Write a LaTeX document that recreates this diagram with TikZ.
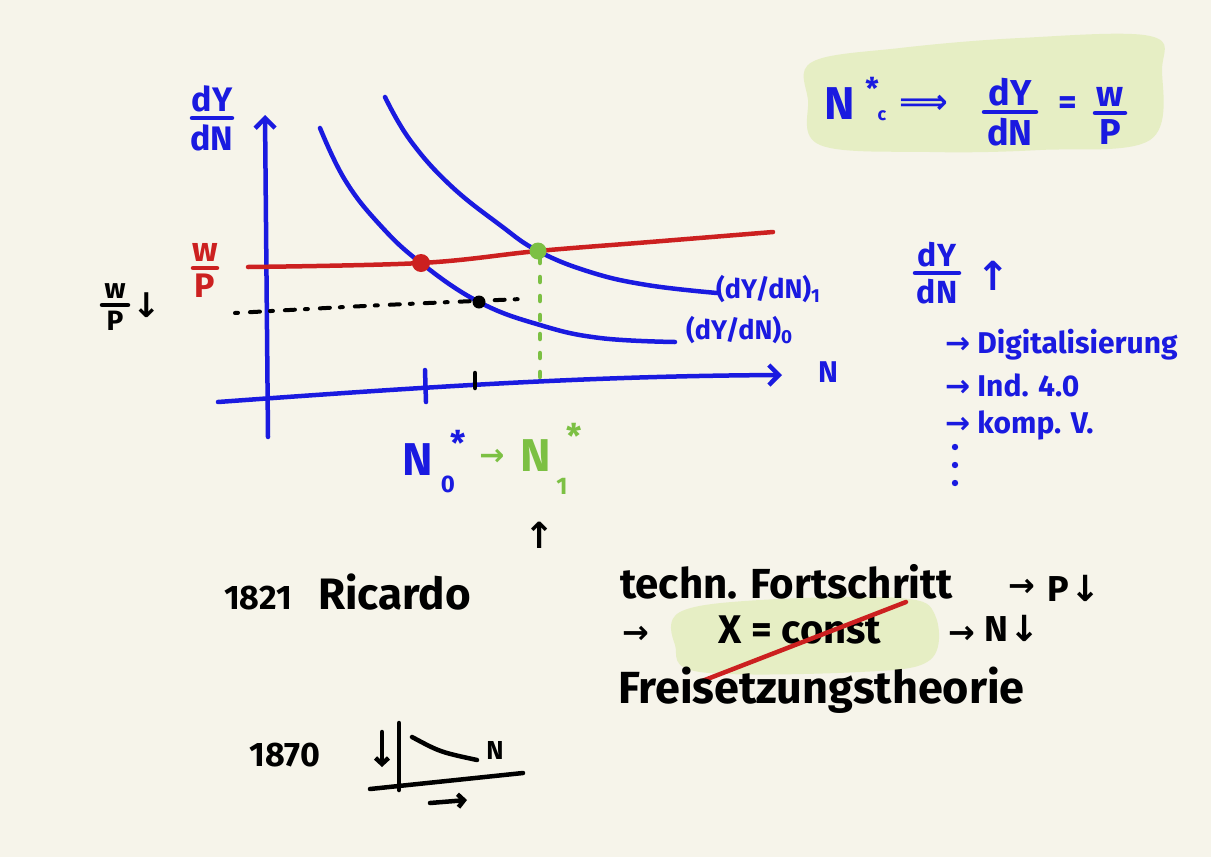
\documentclass[tikz,border=0pt]{standalone}
\usepackage{fontspec}
\setmainfont{Fira Sans}
\newfontfamily\arr{DejaVu Sans}
\usetikzlibrary{arrows.meta}
\definecolor{paper}{HTML}{F6F4EA}
\definecolor{ink}{HTML}{1A1AE0}
\definecolor{rd}{HTML}{CC2020}
\definecolor{gr}{HTML}{7CC043}
\definecolor{hl}{HTML}{E6EEC4}
\tikzset{
  pen/.style={line width=4.5pt, line cap=round, line join=round},
  hw/.style={font=\bfseries\fontsize{#1}{#1}\selectfont, inner sep=0pt},
  hw/.default=34,
  axarrow/.style={-{Straight Barb[length=10pt,width=20pt]}},
  smallarrow/.style={-{Straight Barb[length=6pt,width=13pt]}},
}
\newcommand\myfr[8]{% name x y top bottom color fontsize halfbar
  \node[hw=#7,text=#6,anchor=south] (#1t) at (#2,#3-6) {#4};
  \node[hw=#7,text=#6,anchor=north] (#1b) at (#2,#3+6) {#5};
  \draw[pen,#6] (#2-#8,#3) -- (#2+#8,#3);
}
\begin{document}
\begin{tikzpicture}[x=1pt,y=-1pt]
\fill[paper] (0,0) rectangle (1211,857);
\useasboundingbox (0,0) rectangle (1211,857);
% highlights
\fill[hl] plot[smooth cycle,tension=0.6] coordinates {(812,62) (900,48) (1020,38) (1150,36) (1162,70) (1150,140) (1040,150) (930,152) (820,145) (808,100)};
\fill[hl] plot[smooth cycle,tension=0.6] coordinates {(680,612) (760,600) (900,598) (935,615) (930,660) (860,672) (700,672) (675,645)};
% axes
\coordinate (yb) at (268,437); \coordinate (yt) at (265,115);
\draw[pen,ink,axarrow] (yb) -- (yt);
\coordinate (xl) at (218,402); \coordinate (xr) at (782,375);
\draw[pen,ink,axarrow] (xl) .. controls (450,385) and (600,376) .. (xr);
\node[hw=30,text=ink] (nlab) at (828,372) {N};
\myfr{ax}{212}{118}{dY}{dN}{ink}{34}{20}
% ticks
\draw[pen,ink] (425,370) -- (426,402);
\draw[pen,black] (475,373) -- (475,388);
% curves
\draw[pen,ink] plot[smooth,tension=0.7] coordinates {(320,128) (345,180) (380,225) (421,263) (479,302) (540,325) (600,338) (675,342)};
\draw[pen,ink] plot[smooth,tension=0.7] coordinates {(385,97) (410,140) (450,185) (500,225) (538,251) (590,272) (647,285) (717,293)};
\node[hw=27,text=ink,anchor=west] (c1) at (716,289) {(dY/dN)\textsubscript{1}};
\node[hw=27,text=ink,anchor=west] (c0) at (686,330) {(dY/dN)\textsubscript{0}};
% red w/P line
\draw[pen,rd] plot[smooth,tension=0.6] coordinates {(248,267) (421,263) (538,251) (650,242) (773,232)};
\myfr{rw}{205}{268}{w}{P}{rd}{34}{12}
% dashed line
\draw[pen,black,line width=4pt,dash pattern=on 3pt off 12pt on 10pt off 10pt] (235,313) .. controls (380,305) .. (522,299);
% green dotted
\draw[pen,gr,dash pattern=on 5pt off 14pt] (540,258) -- (540,390);
% dots
\fill[rd] (421,263) circle (9);
\fill[gr] (538,251) circle (8.5);
\fill[black] (479,302) circle (6.5);
% black w/P down
\myfr{bw}{115}{305}{w}{P}{black}{28}{13}
\node[text=black,font=\arr\bfseries\fontsize{34}{34}\selectfont,inner sep=0pt] (bwd) at (147,305) {↓};
% N0* -> N1*
\node[hw=46,text=ink] (n0) at (418,460) {N};
\node[hw=34,text=ink] (n0s) at (458,443) {*};
\node[hw=24,text=ink] (n0sub) at (448,484) {0};
\node[text=gr,font=\arr\bfseries\fontsize{30}{30}\selectfont,inner sep=0pt] (narr) at (492,457) {→};
\node[hw=46,text=gr] (n1) at (536,456) {N};
\node[hw=34,text=gr] (n1s) at (574,436) {*};
\node[hw=24,text=gr] (n1sub) at (562,486) {1};
% top right formula
\node[hw=46,text=ink] (tn) at (840,104) {N};
\node[hw=30,text=ink] (tns) at (872,88) {*};
\node[hw=18,text=ink] (tnc) at (882,116) {c};
\node[text=ink,font=\arr\bfseries\fontsize{34}{34}\selectfont,inner sep=0pt] (timp) at (924,104) {⟹};
\myfr{tf}{1010}{112}{dY}{dN}{ink}{36}{26}
\node[hw=36,text=ink] (teq) at (1068,106) {=};
\myfr{tw}{1110}{113}{w}{P}{ink}{36}{15}
% right block
\myfr{rf}{937}{273}{dY}{dN}{ink}{32}{22}
\node[text=ink,font=\arr\bfseries\fontsize{40}{40}\selectfont,inner sep=0pt] (rup) at (993,276) {↑};
\node[hw=30,text=ink,anchor=west] (l1) at (945,345) {{\arr→} Digitalisierung};
\node[hw=30,text=ink,anchor=west] (l2) at (945,385) {{\arr→} Ind. 4.0};
\node[hw=30,text=ink,anchor=west] (l3) at (945,425) {{\arr→} komp. V.};
\fill[ink] (955,447) circle (3.2) (955,465) circle (3.2) (955,483) circle (3.2);
% bottom
\node[text=black,font=\arr\bfseries\fontsize{36}{36}\selectfont,inner sep=0pt] (bup) at (540,535) {↑};
\node[hw=34,anchor=west] (y1821) at (224,598) {1821};
\node[hw=44,anchor=west] (ric) at (318,592) {Ricardo};
\node[hw=42,anchor=west] (tech) at (620,582) {techn. Fortschritt};
\node[font=\arr\bfseries\fontsize{32}{32}\selectfont,inner sep=0pt] (ta1) at (1022,588) {→};
\node[hw=36] (tp) at (1074,588) {P\kern1pt{\arr↓}};
\node[font=\arr\bfseries\fontsize{32}{32}\selectfont,inner sep=0pt] (ta2) at (636,635) {→};
\node[hw=40] (xc) at (800,630) {X = const};
\draw[pen,rd] (697,683) -- (906,602);
\node[font=\arr\bfseries\fontsize{32}{32}\selectfont,inner sep=0pt] (ta3) at (962,635) {→};
\node[hw=36] (tn2) at (1012,628) {N\kern1pt{\arr↓}};
\node[hw=45,anchor=west] (frei) at (618,690) {Freisetzungstheorie};
% 1870 sketch
\node[hw=34] (y1870) at (285,755) {1870};
\draw[pen,black,smallarrow] (382,732) -- (382,767);
\draw[pen,black] (399,723) -- (399,790);
\draw[pen,black] (370,789) -- (523,773);
\draw[pen,black] (412,737) .. controls (440,752) .. (477,760);
\node[hw=26] (sn) at (495,750) {N};
\draw[pen,black,smallarrow] (430,803) -- (467,800);
\end{tikzpicture}
\end{document}
